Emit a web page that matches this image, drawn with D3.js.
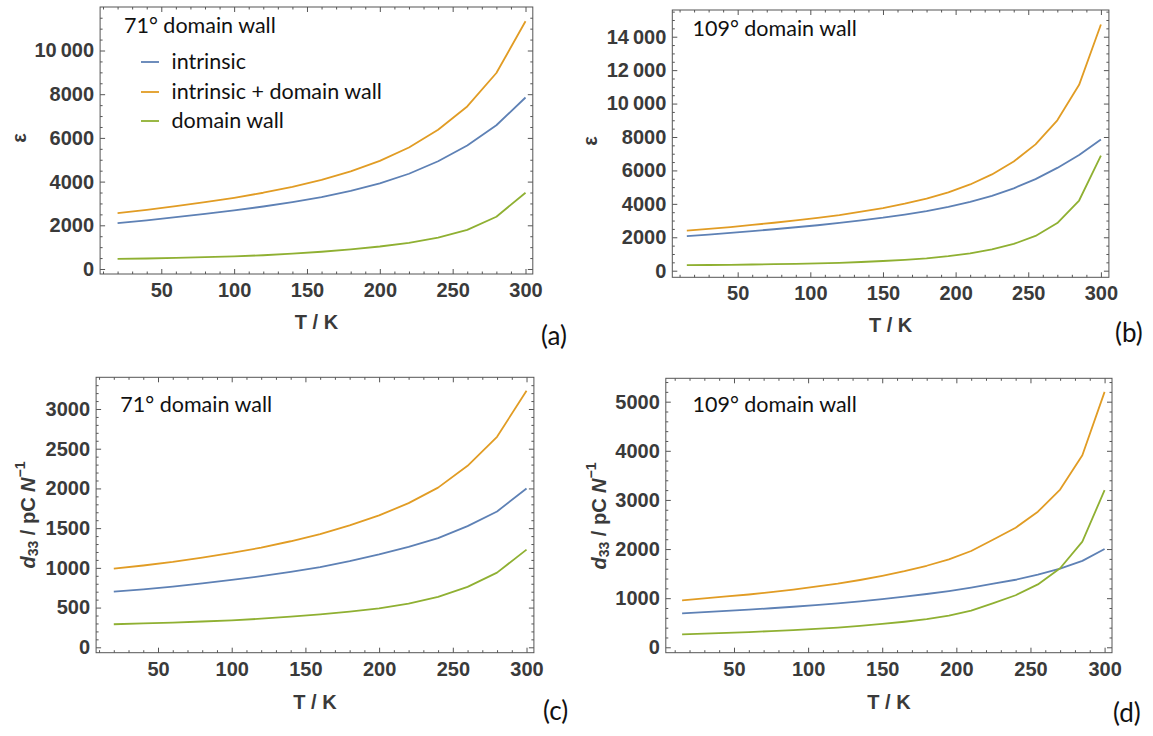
<!DOCTYPE html>
<html><head><meta charset="utf-8">
<script src="https://cdn.jsdelivr.net/npm/d3@7"></script>
<style>body{margin:0;background:#fff} svg{display:block}</style>
</head><body><svg id="c" width="1153" height="736"></svg>
<script>
// ---------- data ----------
const T20 = [20,40,60,80,100,120,140,160,180,200,220,240,260,280,300];
const T15 = [15,30,45,60,75,90,105,120,135,150,165,180,195,210,225,240,255,270,285,300];

const aIntrinsic = [2100,2230,2370,2520,2680,2860,3060,3290,3570,3920,4360,4930,5650,6580,7850];
const aTotal     = [2560,2710,2880,3060,3260,3490,3760,4080,4470,4950,5560,6370,7440,8970,11340];
const aWall      = [460,480,510,540,580,630,700,790,900,1030,1200,1440,1790,2390,3490];

const bIntrinsic = [2070,2160,2260,2370,2480,2600,2720,2860,3010,3170,3360,3570,3820,4120,4480,4930,5480,6150,6920,7850];
const bTotal     = [2400,2500,2610,2740,2870,3010,3160,3330,3530,3750,4010,4310,4690,5160,5760,6530,7560,9000,11120,14730];
const bWall      = [330,340,350,370,390,410,440,470,520,580,650,740,870,1040,1280,1600,2080,2850,4200,6880];

const cIntrinsic = [700,730,765,805,848,895,950,1010,1085,1170,1265,1375,1525,1710,2000];
const cTotal     = [990,1030,1075,1130,1188,1255,1335,1425,1535,1660,1815,2010,2285,2650,3230];
const cWall      = [290,300,310,325,340,360,385,415,450,490,550,635,760,940,1230];

const dIntrinsic = [690,715,740,765,795,825,860,895,935,980,1030,1085,1145,1215,1295,1375,1480,1600,1760,2000];
const dTotal     = [955,995,1035,1075,1125,1175,1235,1295,1370,1455,1550,1660,1790,1960,2195,2435,2760,3210,3910,5200];
const dWall      = [265,280,295,310,330,350,375,400,435,475,520,575,645,745,900,1060,1280,1610,2150,3200];

const seriesNames = ["intrinsic","intrinsic + domain wall","domain wall"];
const colors = ["#5E81B5","#E19C24","#8FB032"];
const xMajor = [50,100,150,200,250,300];
const xMinor = [10,20,30,40,60,70,80,90,110,120,130,140,160,170,180,190,210,220,230,240,260,270,280,290];
const titles = ["71° domain wall","109° domain wall","71° domain wall","109° domain wall"];
const letters = ["(a)","(b)","(c)","(d)"];

// ---------- layout ----------
const panels = [
  {T:T20, ys:[aIntrinsic,aTotal,aWall], xd:[8,305], xr:[100.1,532.8], yd:[-229,11991], yr:[274,7],
   yMajorStep:2000, yMinorStep:500, yMax:10000, title:[124,33], ylab:"eps", ylabPos:[19,138], xlab:[316.5,329], letter:[541,345], legend:true},
  {T:T15, ys:[bIntrinsic,bTotal,bWall], xd:[5,305.5], xr:[672.3,1108.9], yd:[-395,15598], yr:[277.3,10],
   yMajorStep:2000, yMinorStep:500, yMax:14000, title:[692.5,36], ylab:"eps", ylabPos:[590,141], xlab:[890.6,332], letter:[1115,342]},
  {T:T20, ys:[cIntrinsic,cTotal,cWall], xd:[8,305], xr:[96.1,533.9], yd:[-68,3399], yr:[652.7,377.3],
   yMajorStep:500, yMinorStep:100, yMax:3000, title:[120.3,411.7], ylab:"d33", ylabPos:[28,515], xlab:[315,709], letter:[543,720]},
  {T:T15, ys:[dIntrinsic,dTotal,dWall], xd:[4,305], xr:[665.8,1112.0], yd:[-110,5476], yr:[652.7,378.3],
   yMajorStep:1000, yMinorStep:200, yMax:5000, title:[692.5,411.7], ylab:"d33", ylabPos:[599,516], xlab:[889,709], letter:[1113,722]}
];

const svg = d3.select("#c");
svg.append("rect").attr("width",1153).attr("height",736).attr("fill","#fff");

const tickFont = "'Liberation Sans', Arial, sans-serif";
const textFont = "Lato, 'Open Sans', sans-serif";
const frameColor = "#555";
const labelColor = "#3a3a3a";
const fmt = v => v >= 10000 ? Math.floor(v/1000) + "\u2009" + String(v % 1000).padStart(3,"0") : String(v);

panels.forEach((p, i) => {
  const g = svg.append("g");
  const x = d3.scaleLinear().domain(p.xd).range(p.xr);
  const y = d3.scaleLinear().domain(p.yd).range(p.yr);
  const [L,R] = p.xr, [B,Tp] = p.yr;

  const yMajor = d3.range(0, p.yMax + 1, p.yMajorStep);
  const yMinor = d3.range(0, p.yd[1], p.yMinorStep).filter(v => v % p.yMajorStep !== 0);

  // series
  const line = d3.line().x((d) => x(d[0])).y(d => y(d[1]));
  p.ys.forEach((vals, k) => {
    g.append("path").datum(p.T.map((t, j) => [t, vals[j]]))
      .attr("d", line).attr("fill","none").attr("stroke", colors[k])
      .attr("stroke-width", 1.8).attr("stroke-linejoin","round");
  });

  // axes (inward ticks)
  const styleAxis = sel => {
    sel.select(".domain").remove();
    sel.selectAll(".tick line").attr("stroke", frameColor).attr("stroke-width", 1);
    sel.selectAll("text").attr("font-family", tickFont).attr("font-weight","bold")
       .attr("font-size", 20).attr("fill", labelColor);
  };
  const mk = (axisFn, scale, vals, size, labels, tr, pad) => {
    const ax = axisFn(scale).tickValues(vals).tickSize(-size).tickPadding(pad || 6);
    ax.tickFormat(labels ? fmt : () => "");
    g.append("g").attr("transform", tr).call(ax).call(styleAxis);
  };
  mk(d3.axisBottom, x, xMajor, 5, true, `translate(0,${B})`, 9);
  mk(d3.axisBottom, x, xMinor, 2.5, false, `translate(0,${B})`);
  mk(d3.axisTop, x, xMajor, 5, false, `translate(0,${Tp})`);
  mk(d3.axisTop, x, xMinor, 2.5, false, `translate(0,${Tp})`);
  mk(d3.axisLeft, y, yMajor, 5, true, `translate(${L},0)`, 6);
  mk(d3.axisLeft, y, yMinor, 2.5, false, `translate(${L},0)`);
  mk(d3.axisRight, y, yMajor, 5, false, `translate(${R},0)`);
  mk(d3.axisRight, y, yMinor, 2.5, false, `translate(${R},0)`);

  // frame
  g.append("rect").attr("x", L).attr("y", Tp).attr("width", R - L).attr("height", B - Tp)
    .attr("fill","none").attr("stroke", frameColor).attr("stroke-width", 1);

  // x label
  g.append("text").attr("x", p.xlab[0]).attr("y", p.xlab[1]).attr("text-anchor","middle")
    .attr("font-family", tickFont).attr("font-weight","bold").attr("font-size",20)
    .attr("fill", labelColor).text("T / K");

  // y label
  const yl = g.append("text").attr("transform", `translate(${p.ylabPos[0]},${p.ylabPos[1]}) rotate(-90)`)
    .attr("text-anchor","middle").attr("dominant-baseline","central")
    .attr("font-family", tickFont).attr("font-weight","bold").attr("font-size",20).attr("fill", labelColor);
  if (p.ylab === "eps") {
    yl.text("ε");
  } else {
    yl.append("tspan").attr("font-style","italic").text("d");
    yl.append("tspan").attr("font-size",14).attr("dy",5).text("33");
    yl.append("tspan").attr("dy",-5).text(" / pC ");
    yl.append("tspan").attr("font-style","italic").text("N");
    yl.append("tspan").attr("font-size",14).attr("dy",-8).text("\u22121");
  }

  // title
  g.append("text").attr("x", p.title[0]).attr("y", p.title[1])
    .attr("font-family", textFont).attr("font-size", 21.5).attr("fill","#111").text(titles[i]);

  // panel letter
  svg.append("text").attr("x", p.letter[0]).attr("y", p.letter[1])
    .attr("font-family", textFont).attr("font-size", 26).attr("fill","#111").text(letters[i]);

  // legend
  if (p.legend) {
    const rows = [62, 92, 121];
    seriesNames.forEach((n, k) => {
      g.append("line").attr("x1",141).attr("x2",159).attr("y1",rows[k]).attr("y2",rows[k])
        .attr("stroke", colors[k]).attr("stroke-width",1.8);
      g.append("text").attr("x",171.5).attr("y",rows[k]+7)
        .attr("font-family", textFont).attr("font-size",21.5).attr("fill","#111").text(n);
    });
  }
});
</script></body></html>
